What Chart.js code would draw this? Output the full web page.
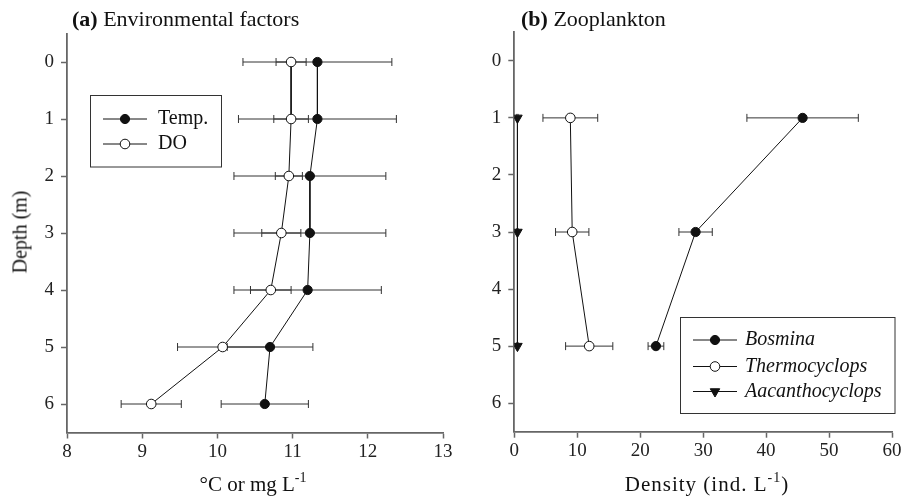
<!DOCTYPE html>
<html>
<head>
<meta charset="utf-8">
<script src="https://cdn.jsdelivr.net/npm/chart.js@4.4.1/dist/chart.umd.min.js"></script>
<style>
  body { margin: 0; background: #fff; width: 913px; height: 496px; position: relative; overflow: hidden; font-family: "Liberation Serif", serif; color: #111; }
  canvas { position: absolute; top: 0; }
  .lbl { position: absolute; font-size: 21px; line-height: 21px; white-space: nowrap; }
  .ttl { font-size: 22px; line-height: 22px; }
  .lbl sup { font-size: 14px; line-height: 0; position: relative; top: -1px; }
</style>
</head>
<body>
<canvas id="envChart" width="460" height="496" style="left:0"></canvas>
<canvas id="zooChart" width="453" height="496" style="left:460px"></canvas>

<div class="lbl ttl" style="left:72px; top:8px;"><b>(a)</b> Environmental factors</div>
<div class="lbl ttl" style="left:521px; top:8px;"><b>(b)</b> Zooplankton</div>
<div class="lbl" style="left:253px; top:474px; transform:translateX(-50%);">°C or mg L<sup>-1</sup></div>
<div class="lbl" style="left:707px; top:474px; transform:translateX(-50%); letter-spacing:1px;">Density (ind. L<sup>-1</sup>)</div>
<div class="lbl" style="left:20px; top:232px; font-size:20px; transform:translate(-50%,-50%) rotate(-90deg);">Depth (m)</div>

<script>
// depth axis
const depthTicks = [0, 1, 2, 3, 4, 5, 6];

// (a) environmental factors
const envDepth = [0, 1, 2, 3, 4, 5, 6];
const tempVals = [11.33, 11.33, 11.23, 11.23, 11.2, 10.7, 10.63];
const tempErr = [0.99, 1.05, 1.01, 1.01, 0.98, 0.57, 0.58];
const doVals = [10.98, 10.98, 10.95, 10.85, 10.71, 10.07, 9.12];
const doErr = [0.2, 0.23, 0.18, 0.26, 0.27, 0.6, 0.4];
const envXTicks = [8, 9, 10, 11, 12, 13];

// (b) zooplankton
const zooDepth = [1, 3, 5];
const bosmina = [45.8, 28.8, 22.5];
const bosminaErr = [8.85, 2.65, 1.25];
const thermo = [8.9, 9.2, 11.9];
const thermoErr = [4.35, 2.65, 3.75];
const aacantho = [0.5, 0.5, 0.5];
const aacanthoErr = [0.1, 0.1, 0.1];
const zooXTicks = [0, 10, 20, 30, 40, 50, 60];

const INK = "#111";
const AXIS = "#666";
const FONT = "Liberation Serif";

function points(vals, depths) {
  return vals.map((v, i) => ({ x: v, y: depths[i] }));
}

function series(label, vals, depths, err, style) {
  return Object.assign({
    label: label,
    data: points(vals, depths),
    err: err,
    showLine: true,
    borderColor: INK,
    borderWidth: 1,
    pointRadius: 4.6,
    pointBorderWidth: 1,
    pointBorderColor: INK,
    pointBackgroundColor: INK,
  }, style);
}

// horizontal error bars, drawn under the markers
const errorBars = {
  id: "errorBars",
  beforeDatasetsDraw(chart) {
    const ctx = chart.ctx;
    const xs = chart.scales.x, ys = chart.scales.y;
    ctx.save();
    ctx.strokeStyle = "#333";
    ctx.lineWidth = 1;
    chart.data.datasets.forEach((ds) => {
      ds.data.forEach((p, i) => {
        const e = ds.err[i];
        const x1 = xs.getPixelForValue(p.x - e);
        const x2 = xs.getPixelForValue(p.x + e);
        const y = ys.getPixelForValue(p.y);
        ctx.beginPath();
        ctx.moveTo(x1, y); ctx.lineTo(x2, y);
        ctx.moveTo(x1, y - 4); ctx.lineTo(x1, y + 4);
        ctx.moveTo(x2, y - 4); ctx.lineTo(x2, y + 4);
        ctx.stroke();
      });
    });
    ctx.restore();
  },
};

// boxed legend with line + marker samples
const boxLegend = {
  id: "boxLegend",
  afterDraw(chart, args, opts) {
    const ctx = chart.ctx;
    ctx.save();
    ctx.strokeStyle = "#333";
    ctx.lineWidth = 1;
    ctx.strokeRect(opts.box[0], opts.box[1], opts.box[2], opts.box[3]);
    ctx.font = (opts.italic ? "italic " : "") + "20px '" + FONT + "'";
    ctx.textBaseline = "middle";
    ctx.fillStyle = INK;
    chart.data.datasets.forEach((ds, i) => {
      const y = opts.rows[i];
      ctx.strokeStyle = INK;
      ctx.beginPath();
      ctx.moveTo(opts.lineX[0], y);
      ctx.lineTo(opts.lineX[1], y);
      ctx.stroke();
      ctx.fillStyle = ds.pointBackgroundColor;
      ctx.strokeStyle = ds.pointBorderColor;
      Chart.helpers.drawPoint(ctx, {
        pointStyle: ds.pointStyle || "circle",
        radius: ds.pointRadius,
        rotation: ds.pointRotation || 0,
        borderWidth: 1,
      }, (opts.lineX[0] + opts.lineX[1]) / 2, y);
      ctx.fillStyle = INK;
      ctx.fillText(ds.label, opts.textX, y);
    });
    ctx.restore();
  },
};

function axes(xTicks, xMin, xMax, yWidth, xHeight) {
  const common = {
    grid: { display: true, drawOnChartArea: false, drawTicks: true, tickLength: 6, tickColor: AXIS, tickWidth: 1.5 },
    border: { display: true, color: AXIS, width: 1.8 },
  };
  return {
    x: Object.assign({}, common, {
      type: "linear",
      min: xMin,
      max: xMax,
      afterBuildTicks: (s) => { s.ticks = xTicks.map((v) => ({ value: v })); },
      afterFit: (s) => { s.height = xHeight; },
      ticks: { color: "#222", font: { family: FONT, size: 19 }, padding: 2 },
    }),
    y: Object.assign({}, common, {
      type: "linear",
      reverse: true,
      min: -0.5,
      max: 6.5,
      afterBuildTicks: (s) => { s.ticks = depthTicks.map((v) => ({ value: v })); },
      afterFit: (s) => { s.width = yWidth; },
      ticks: { color: "#222", font: { family: FONT, size: 19 }, padding: 7 },
    }),
  };
}

new Chart(document.getElementById("envChart"), {
  type: "scatter",
  data: {
    datasets: [
      series("Temp.", tempVals, envDepth, tempErr, {}),
      series("DO", doVals, envDepth, doErr, { pointBackgroundColor: "#fff", pointRadius: 4.8 }),
    ],
  },
  options: {
    responsive: false,
    animation: false,
    events: [],
    layout: { padding: { left: 0, right: 17, top: 33.5, bottom: 0 } },
    scales: axes(envXTicks, 8, 13, 67, 63.5),
    plugins: {
      legend: { display: false },
      tooltip: { enabled: false },
      boxLegend: { box: [90.5, 95.5, 131, 71.5], rows: [119, 144], lineX: [103, 147], textX: 158, italic: false },
    },
  },
  plugins: [errorBars, boxLegend],
});

new Chart(document.getElementById("zooChart"), {
  type: "scatter",
  data: {
    datasets: [
      series("Bosmina", bosmina, zooDepth, bosminaErr, {}),
      series("Thermocyclops", thermo, zooDepth, thermoErr, { pointBackgroundColor: "#fff", pointRadius: 4.8 }),
      series("Aacanthocyclops", aacantho, zooDepth, aacanthoErr, { pointStyle: "triangle", pointRotation: 180, pointRadius: 5.5 }),
    ],
  },
  options: {
    responsive: false,
    animation: false,
    events: [],
    layout: { padding: { left: 0, right: 21, top: 32.3, bottom: 0 } },
    scales: axes(zooXTicks, 0, 60, 54.3, 64.3),
    plugins: {
      legend: { display: false },
      tooltip: { enabled: false },
      boxLegend: { box: [220.5, 317.5, 214.5, 96], rows: [340, 366.5, 391.5], lineX: [233, 277], textX: 285, italic: true },
    },
  },
  plugins: [errorBars, boxLegend],
});
</script>
</body>
</html>
